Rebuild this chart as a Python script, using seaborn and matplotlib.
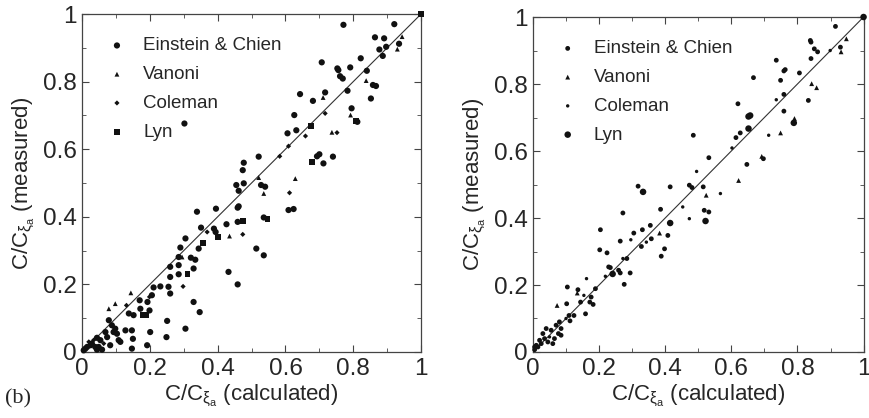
import matplotlib
matplotlib.use('Agg')
import matplotlib.pyplot as plt
import seaborn as sns
import pandas as pd

# ---- left panel data ----
left_einstein_x = [0.771, 0.921, 0.935, 0.864, 0.891, 0.897, 0.877, 0.887, 0.822, 0.707, 0.753, 0.756,
                   0.761, 0.769, 0.791, 0.840, 0.858, 0.867, 0.783, 0.717, 0.643, 0.681, 0.852, 0.795,
                   0.812, 0.626, 0.632, 0.606, 0.693, 0.700, 0.712, 0.740, 0.302, 0.521, 0.477, 0.474,
                   0.477, 0.528, 0.540, 0.455, 0.462, 0.609, 0.624, 0.536, 0.459, 0.459, 0.462, 0.426,
                   0.395, 0.339, 0.389, 0.394, 0.351, 0.344, 0.305, 0.290, 0.321, 0.285, 0.334, 0.514,
                   0.536, 0.432, 0.459, 0.329, 0.285, 0.260, 0.285, 0.260, 0.231, 0.211, 0.255, 0.260,
                   0.206, 0.170, 0.193, 0.329, 0.172, 0.199, 0.347, 0.138, 0.152, 0.251, 0.079, 0.088,
                   0.098, 0.128, 0.147, 0.201, 0.305, 0.103, 0.069, 0.093, 0.044, 0.054, 0.108, 0.113,
                   0.150, 0.083, 0.049, 0.044, 0.249, 0.192, 0.147, 0.029, 0.015, 0.005, 0.010, 0.074,
                   0.025, 0.039, 0.059]
left_einstein_y = [0.968, 0.970, 0.912, 0.931, 0.928, 0.903, 0.895, 0.876, 0.869, 0.857, 0.839, 0.834,
                   0.816, 0.809, 0.842, 0.832, 0.790, 0.787, 0.773, 0.768, 0.763, 0.743, 0.750, 0.721,
                   0.681, 0.701, 0.656, 0.647, 0.579, 0.585, 0.558, 0.578, 0.676, 0.578, 0.560, 0.538,
                   0.499, 0.494, 0.489, 0.494, 0.477, 0.420, 0.423, 0.398, 0.385, 0.427, 0.431, 0.378,
                   0.424, 0.415, 0.365, 0.355, 0.368, 0.306, 0.336, 0.309, 0.279, 0.281, 0.273, 0.306,
                   0.286, 0.237, 0.200, 0.247, 0.257, 0.252, 0.230, 0.222, 0.194, 0.191, 0.193, 0.173,
                   0.168, 0.153, 0.148, 0.148, 0.128, 0.123, 0.118, 0.114, 0.109, 0.092, 0.094, 0.079,
                   0.069, 0.064, 0.064, 0.059, 0.069, 0.054, 0.059, 0.059, 0.042, 0.035, 0.035, 0.030,
                   0.039, 0.020, 0.015, 0.007, 0.044, 0.020, 0.010, 0.025, 0.015, 0.005, 0.010, 0.044,
                   0.020, 0.015, 0.007]
left_vanoni_x = [0.944, 0.930, 0.838, 0.711, 0.792, 0.737, 0.521, 0.629, 0.536, 0.435, 0.295, 0.144, 0.098, 0.079]
left_vanoni_y = [0.933, 0.896, 0.803, 0.753, 0.701, 0.650, 0.516, 0.513, 0.469, 0.343, 0.281, 0.175, 0.143, 0.128]
left_coleman_x = [0.612, 0.474, 0.298, 0.583, 0.609, 0.752, 0.659, 0.717, 0.199, 0.131, 0.064, 0.034, 0.020, 0.369]
left_coleman_y = [0.471, 0.348, 0.194, 0.579, 0.609, 0.649, 0.639, 0.706, 0.163, 0.138, 0.025, 0.035, 0.030, 0.355]
left_lyn_x = [1.000, 0.808, 0.675, 0.678, 0.400, 0.357, 0.311, 0.547, 0.474, 0.181, 0.190]
left_lyn_y = [1.000, 0.684, 0.668, 0.563, 0.339, 0.323, 0.232, 0.393, 0.388, 0.109, 0.109]

# ---- right panel data ----
right_einstein_x = [0.915, 0.930, 0.839, 0.841, 0.851, 0.861, 0.841, 0.736, 0.806, 0.759, 0.763, 0.749,
                    0.667, 0.759, 0.833, 0.620, 0.759, 0.627, 0.614, 0.485, 0.532, 0.647, 0.697, 0.473,
                    0.481, 0.515, 0.318, 0.415, 0.518, 0.532, 0.386, 0.355, 0.331, 0.264, 0.272, 0.204,
                    0.305, 0.358, 0.408, 0.328, 0.202, 0.224, 0.398, 0.388, 0.284, 0.294, 0.276, 0.229,
                    0.234, 0.264, 0.259, 0.104, 0.136, 0.189, 0.176, 0.144, 0.172, 0.182, 0.102, 0.109,
                    0.124, 0.159, 0.112, 0.080, 0.070, 0.085, 0.055, 0.040, 0.030, 0.065, 0.085, 0.077,
                    0.045, 0.025, 0.015, 0.005, 0.010, 0.020, 0.035, 0.060, 0.005]
right_einstein_y = [0.972, 0.910, 0.930, 0.925, 0.905, 0.896, 0.876, 0.871, 0.833, 0.839, 0.843, 0.811,
                    0.819, 0.769, 0.751, 0.741, 0.719, 0.654, 0.640, 0.647, 0.580, 0.560, 0.577, 0.498,
                    0.491, 0.493, 0.495, 0.493, 0.423, 0.418, 0.426, 0.378, 0.365, 0.331, 0.415, 0.365,
                    0.355, 0.338, 0.348, 0.315, 0.305, 0.296, 0.308, 0.286, 0.279, 0.236, 0.202, 0.254,
                    0.252, 0.236, 0.244, 0.194, 0.186, 0.189, 0.164, 0.149, 0.149, 0.142, 0.144, 0.109,
                    0.109, 0.114, 0.093, 0.090, 0.080, 0.070, 0.065, 0.070, 0.055, 0.040, 0.050, 0.055,
                    0.030, 0.025, 0.015, 0.007, 0.020, 0.035, 0.040, 0.025, 0.015]
right_vanoni_x = [0.948, 0.932, 0.843, 0.858, 0.791, 0.749, 0.692, 0.622, 0.524, 0.383, 0.134, 0.073]
right_vanoni_y = [0.935, 0.896, 0.801, 0.789, 0.697, 0.654, 0.584, 0.512, 0.468, 0.355, 0.176, 0.139]
right_coleman_x = [0.899, 0.736, 0.713, 0.602, 0.495, 0.567, 0.453, 0.473, 0.296, 0.343, 0.272, 0.219,
                   0.162, 0.154, 0.100, 0.050]
right_coleman_y = [0.900, 0.753, 0.647, 0.609, 0.539, 0.473, 0.433, 0.398, 0.335, 0.328, 0.279, 0.226,
                   0.219, 0.169, 0.100, 0.045]
right_lyn_x = [1.000, 0.789, 0.522, 0.415, 0.652, 0.657, 0.652, 0.333, 0.241]
right_lyn_y = [1.000, 0.684, 0.391, 0.385, 0.667, 0.706, 0.703, 0.478, 0.233]

series_names = ['Einstein & Chien', 'Vanoni', 'Coleman', 'Lyn']
tick_values = [0, 0.2, 0.4, 0.6, 0.8, 1]
tick_labels = ['0', '0.2', '0.4', '0.6', '0.8', '1']

sns.set_style('ticks')
plt.rcParams['font.family'] = ['Liberation Sans', 'DejaVu Sans']
plt.rcParams['mathtext.fontset'] = 'custom'
plt.rcParams['mathtext.rm'] = 'Liberation Sans'
plt.rcParams['mathtext.it'] = 'Liberation Sans'

fig = plt.figure(figsize=(8.7, 4.18), dpi=100)
ax_l = fig.add_axes([0.0943, 0.1579, 0.3897, 0.8086])
ax_r = fig.add_axes([0.6126, 0.1579, 0.3800, 0.8014])

left_sets = [(left_einstein_x, left_einstein_y), (left_vanoni_x, left_vanoni_y),
             (left_coleman_x, left_coleman_y), (left_lyn_x, left_lyn_y)]
right_sets = [(right_einstein_x, right_einstein_y), (right_vanoni_x, right_vanoni_y),
              (right_coleman_x, right_coleman_y), (right_lyn_x, right_lyn_y)]

# marker style per panel: (marker, size)
left_markers = [('o', 20), ('^', 12), ('D', 7), ('s', 18)]
right_markers = [('o', 12), ('^', 12), ('o', 6), ('o', 22)]

for ax, sets, markers in [(ax_l, left_sets, left_markers), (ax_r, right_sets, right_markers)]:
    ax.plot([0, 1], [0, 1], color='#333333', lw=0.8, zorder=1)
    for name, (xs, ys), (m, s) in zip(series_names, sets, markers):
        df = pd.DataFrame({'x': xs, 'y': ys})
        sns.scatterplot(data=df, x='x', y='y', ax=ax, marker=m, s=s, color='#111111',
                        edgecolor='none', label=name, zorder=3, clip_on=False)
    ax.set_xlim(0, 1)
    ax.set_ylim(0, 1)
    ax.set_xticks(tick_values)
    ax.set_yticks(tick_values)
    ax.set_xticklabels(tick_labels)
    ax.set_yticklabels(tick_labels)
    ax.set_xticks([0.1, 0.3, 0.5, 0.7, 0.9], minor=True)
    ax.set_yticks([0.1, 0.3, 0.5, 0.7, 0.9], minor=True)
    ax.tick_params(which='both', direction='in', top=True, right=True, labelsize=17.5,
                   color='#444444', pad=4)
    ax.tick_params(which='major', length=5, width=0.8)
    ax.tick_params(which='minor', length=3, width=0.6)
    for sp in ax.spines.values():
        sp.set_linewidth(0.9)
        sp.set_color('#444444')
    ax.set_xlabel(r'C/C$_{\xi_a}$ (calculated)', fontsize=16, labelpad=2)
    ax.set_ylabel(r'C/C$_{\xi_a}$ (measured)', fontsize=16, labelpad=4)
    ax.legend(loc='upper left', frameon=False, fontsize=13.5, handletextpad=0.6,
              handlelength=1.6, labelspacing=0.62, borderaxespad=0.3, markerscale=1.0,
              bbox_to_anchor=(0.02, 0.97))

fig.text(0.006, 0.035, '(b)', fontsize=16, family='Liberation Serif')

fig.savefig('out.png', dpi=100, facecolor='white')
